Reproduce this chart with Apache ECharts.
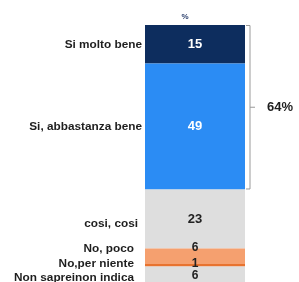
<!DOCTYPE html>
<html>
<head>
<meta charset="utf-8">
<script src="https://cdn.jsdelivr.net/npm/echarts@6/dist/echarts.min.js"></script>
<style>
  html, body { margin: 0; padding: 0; background: #fff; }
  #chart { width: 299px; height: 282px; }
</style>
</head>
<body>
<div id="chart"></div>
<script>
// data
const columnLabel = ['%']
const answers = ['Si molto bene', 'Si, abbastanza bene', 'cosi, cosi', 'No, poco', 'No,per niente', 'Non sapreinon indica']
const values = [15, 49, 23, 6, 1, 6]
const bracketRange = [0, 64]
const bracketText = '64%'

const colors = ['#0d2d5e', '#2b8cf4', '#dedede', '#f5a06f', '#e8732f', '#dedede']
const valueColors = ['#fff', '#fff', '#222', '#222', '#222', '#222']
// small segments have their labels nudged like in the original
const valueOffsets = [0, 0, 0, -9, -2, 1]
const nameOffsets = [0, 0, 5, -8, -2, 3]
const nameDistances = [3, 3, 7, 11, 11, 11]

const FONT = 'Liberation Sans, Arial, sans-serif'

const chart = echarts.init(document.getElementById('chart'))

const series = []
answers.forEach((name, i) => {
  series.push({
    name: name,
    type: 'bar',
    stack: 'total',
    barWidth: '100%',
    barGap: '-100%',
    itemStyle: { color: colors[i] },
    label: {
      show: true,
      position: 'inside',
      offset: [0, valueOffsets[i]],
      color: valueColors[i],
      fontFamily: FONT,
      fontWeight: 'bold',
      fontSize: i < 3 ? 13 : 12,
    },
    silent: true,
    data: [values[i]],
  })
})
// transparent copy of the stack, only to put the answer names on the left
answers.forEach((name, i) => {
  series.push({
    name: name + ' ',
    type: 'bar',
    stack: 'names',
    barWidth: '100%',
    barGap: '-100%',
    itemStyle: { color: 'rgba(0,0,0,0)' },
    label: {
      show: true,
      position: 'left',
      distance: nameDistances[i],
      offset: [0, nameOffsets[i]],
      formatter: name,
      color: '#1e1e1e',
      fontFamily: FONT,
      fontWeight: 'bold',
      fontSize: 11.8,
    },
    silent: true,
    data: [values[i]],
  })
})
// bracket with the total on the right
series.push({
  type: 'custom',
  silent: true,
  renderItem: function (params, api) {
    const top = api.coord([0, api.value(1)])
    const bottom = api.coord([0, api.value(2)])
    const half = api.size([1, 0])[0] / 2
    const x = top[0] + half + 5
    const mid = (top[1] + bottom[1]) / 2
    const style = { stroke: '#9a9a9a', lineWidth: 1, fill: null }
    return {
      type: 'group',
      children: [
        { type: 'polyline', shape: { points: [[x - 4, top[1] + 0.5], [x, top[1] + 0.5], [x, bottom[1] - 0.5], [x - 4, bottom[1] - 0.5]] }, style: style },
        { type: 'line', shape: { x1: x, y1: mid, x2: x + 5, y2: mid }, style: style },
        {
          type: 'text',
          style: {
            x: x + 17, y: mid, text: bracketText,
            verticalAlign: 'middle', align: 'left',
            fill: '#1e1e1e', font: 'bold 13px ' + FONT,
          },
        },
      ],
    }
  },
  data: [[0, bracketRange[0], bracketRange[1]]],
})

chart.setOption({
  animation: false,
  grid: { left: 145, width: 100, top: 25, bottom: 0 },
  xAxis: {
    type: 'category',
    position: 'top',
    data: columnLabel,
    axisLine: { show: false },
    axisTick: { show: false },
    axisLabel: { color: '#2b3f6c', fontSize: 8, fontFamily: FONT, fontWeight: 'bold', margin: 4, padding: [0, 20, 0, 0] },
  },
  yAxis: {
    type: 'value',
    min: 0,
    max: 100,
    inverse: true,
    show: false,
    splitLine: { show: false },
  },
  series: series,
})
</script>
</body>
</html>
